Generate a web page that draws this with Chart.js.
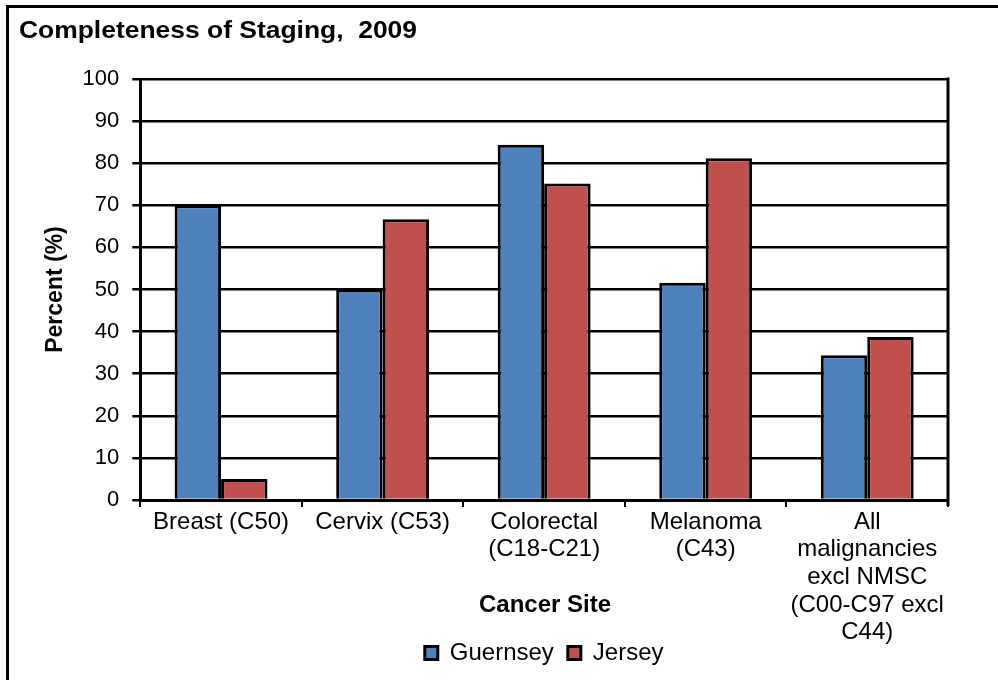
<!doctype html>
<html lang="en">

<head>
    <meta charset="utf-8">
    <title>Completeness of Staging, 2009</title>
    <script src="https://cdn.jsdelivr.net/npm/chart.js@4.4.1/dist/chart.umd.min.js"></script>
    <style>
        body { margin: 0; background: #fff; }
        #wrap { width: 998px; height: 680px; position: relative; }
    </style>
</head>

<body>

    <div id="wrap"><canvas id="chart"></canvas></div>

    <script>
        // cancer sites and % of cases with a recorded stage
        var sitios = ['Breast (C50)', 'Cervix (C53)', ['Colorectal', '(C18-C21)'], ['Melanoma', '(C43)'],
            ['All', 'malignancies', 'excl NMSC', '(C00-C97 excl', 'C44)']];
        var guernsey = [70, 50, 84.4, 51.6, 34.4];
        var jersey = [5, 66.7, 75.2, 81.2, 38.7];
        var yTicks = [0, 10, 20, 30, 40, 50, 60, 70, 80, 90, 100];

        var fuente = "'Liberation Sans', Arial, sans-serif";

        // frame, heading, x title and the right edge of the plot
        var extras = {
            id: 'extras',
            afterDraw: function (chart) {
                var ctx = chart.ctx;
                var area = chart.chartArea;
                ctx.save();
                ctx.strokeStyle = '#000';
                ctx.lineWidth = 3;
                ctx.beginPath();
                ctx.moveTo(7.5, 680);
                ctx.lineTo(7.5, 6.5);
                ctx.lineTo(998, 6.5);
                ctx.stroke();

                ctx.beginPath();
                ctx.moveTo(area.right, area.top - 1.5);
                ctx.lineTo(area.right, area.bottom + 6);
                ctx.stroke();

                ctx.fillStyle = '#000';
                ctx.textBaseline = 'alphabetic';
                ctx.font = 'bold 24px ' + fuente;
                var txt = 'Completeness of Staging,  2009';
                var w = ctx.measureText(txt).width;
                ctx.translate(19, 38);
                ctx.scale(398 / w, 1);
                ctx.fillText(txt, 0, 0);
                ctx.restore();

                ctx.save();
                ctx.fillStyle = '#000';
                ctx.font = 'bold 24px ' + fuente;
                ctx.textAlign = 'center';
                ctx.textBaseline = 'middle';
                ctx.fillText('Cancer Site', 545, 605);
                ctx.restore();
            }
        };

        new Chart(document.getElementById('chart').getContext('2d'), {
            type: 'bar',
            data: {
                labels: sitios,
                datasets: [{
                    label: 'Guernsey',
                    backgroundColor: '#4F81BD',
                    borderColor: '#000',
                    borderWidth: 3,
                    data: guernsey
                }, {
                    label: 'Jersey',
                    backgroundColor: '#C0504D',
                    borderColor: '#000',
                    borderWidth: 3,
                    data: jersey
                }]
            },
            options: {
                responsive: true,
                maintainAspectRatio: false,
                animation: false,
                datasets: { bar: { categoryPercentage: 0.575, barPercentage: 1 } },
                layout: { padding: { top: 79, left: 42, right: 50, bottom: 5 } },
                plugins: {
                    title: { display: false },
                    tooltip: { enabled: false },
                    legend: {
                        position: 'bottom',
                        fullSize: false,
                        labels: {
                            color: '#000',
                            font: { family: fuente, size: 24 },
                            boxWidth: 13,
                            boxHeight: 13,
                            padding: 14
                        }
                    }
                },
                scales: {
                    x: {
                        grid: { display: true, drawOnChartArea: false, drawTicks: true, tickLength: 7, color: '#000', lineWidth: 2 },
                        border: { display: true, color: '#000', width: 3 },
                        ticks: {
                            color: '#000',
                            // mirror keeps the long last label from being clipped at the axis box
                            mirror: true,
                            padding: -36,
                            maxRotation: 0,
                            autoSkip: false,
                            font: { family: fuente, size: 24, lineHeight: 1.15 }
                        },
                        // the last label runs down beside the legend, so reserve less room
                        afterFit: function (scale) { scale.height = 127; }
                    },
                    y: {
                        min: 0,
                        max: 100,
                        afterBuildTicks: function (axis) {
                            axis.ticks = yTicks.map(function (v) { return { value: v }; });
                        },
                        grid: { color: '#000', lineWidth: 2.5, tickLength: 8 },
                        border: { display: true, color: '#000', width: 3 },
                        ticks: {
                            color: '#000',
                            padding: 13,
                            font: { family: fuente, size: 22 }
                        },
                        title: {
                            display: true,
                            text: 'Percent (%)',
                            color: '#000',
                            padding: { top: 0, bottom: 0 },
                            font: { family: fuente, size: 23, weight: 'bold' }
                        }
                    }
                }
            },
            plugins: [extras]
        });
    </script>

</body>

</html>
